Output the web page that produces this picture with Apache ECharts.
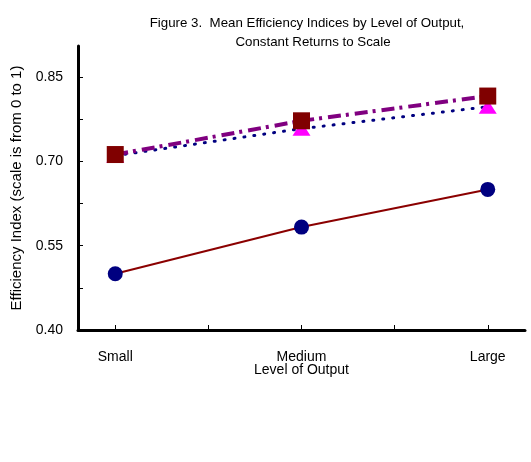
<!DOCTYPE html>
<html>
<head>
<meta charset="utf-8">
<script src="https://cdn.jsdelivr.net/npm/echarts@6/dist/echarts.min.js"></script>
<style>
  html, body { margin: 0; padding: 0; background: #fff; }
  #chart { width: 531px; height: 462px; }
</style>
</head>
<body>
<div id="chart"></div>
<script>
// Output size classes, placed at positions 0, 1, 2 on the horizontal axis
const categories = ['Small', 'Medium', 'Large'];

// Mean efficiency index by output level (constant returns to scale)
const seriesCircle = [0.50, 0.583, 0.65];
const seriesSquare = [0.712, 0.772, 0.816];
const seriesTriangle = [0.71, 0.758, 0.797];

// Axis ticks and labels
const yTickValues = [0.40, 0.475, 0.55, 0.625, 0.70, 0.775, 0.85];
const yLabelValues = [0.40, 0.55, 0.70, 0.85];
const xTickValues = [0, 0.5, 1, 1.5, 2];
const xLabelValues = [0, 1, 2];

const FONT = 'Liberation Sans';

function pairs(vals) {
  return vals.map((v, i) => [i, v]);
}

const chart = echarts.init(document.getElementById('chart'), null, { renderer: 'canvas' });

chart.setOption({
  backgroundColor: '#ffffff',
  animation: false,
  title: [
    {
      text: 'Figure 3.  Mean Efficiency Indices by Level of Output,',
      left: 302, top: 12, textAlign: 'center',
      textStyle: { fontFamily: FONT, fontSize: 13.3, fontWeight: 'normal', color: '#000' }
    },
    {
      text: 'Constant Returns to Scale',
      left: 308, top: 31, textAlign: 'center',
      textStyle: { fontFamily: FONT, fontSize: 13.3, fontWeight: 'normal', color: '#000' }
    }
  ],
  grid: { left: 78, right: 6, top: 46, bottom: 132, containLabel: false },
  xAxis: {
    type: 'value',
    min: -0.2,
    max: 2.2,
    name: 'Level of Output',
    nameLocation: 'middle',
    nameGap: 33,
    nameMoveOverlap: false,
    nameTextStyle: { fontFamily: FONT, fontSize: 14, color: '#000' },
    axisLine: { show: true, onZero: false, lineStyle: { color: '#000', width: 3 } },
    axisTick: { show: true, inside: true, length: 5, customValues: xTickValues, lineStyle: { color: '#000', width: 1 } },
    axisLabel: {
      customValues: xLabelValues,
      margin: 20,
      fontFamily: FONT, fontSize: 14, color: '#000',
      formatter: v => categories[Math.round(v)] || ''
    },
    splitLine: { show: false }
  },
  yAxis: {
    type: 'value',
    min: 0.40,
    max: 0.905,
    name: 'Efficiency Index (scale is from 0 to 1)',
    nameLocation: 'middle',
    nameGap: 54,
    nameRotate: 90,
    nameTextStyle: { fontFamily: FONT, fontSize: 15, color: '#000' },
    axisLine: { show: true, onZero: false, lineStyle: { color: '#000', width: 3 } },
    axisTick: { show: true, inside: true, length: 5, customValues: yTickValues, lineStyle: { color: '#000', width: 1 } },
    axisLabel: {
      customValues: yLabelValues,
      margin: 15,
      fontFamily: FONT, fontSize: 14, color: '#000',
      formatter: v => v.toFixed(2)
    },
    splitLine: { show: false }
  },
  series: [
    {
      type: 'line',
      data: pairs(seriesCircle),
      symbol: 'circle',
      symbolSize: 15,
      itemStyle: { color: '#000080' },
      lineStyle: { color: '#8B0000', width: 2 },
      z: 2
    },
    {
      type: 'line',
      data: pairs(seriesTriangle),
      symbol: 'triangle',
      symbolSize: [18, 14],
      itemStyle: { color: '#FF00FF' },
      lineStyle: { color: '#000080', width: 3, type: [1, 9], cap: 'round' },
      z: 3
    },
    {
      type: 'line',
      data: pairs(seriesSquare),
      symbol: 'rect',
      symbolSize: 17,
      itemStyle: { color: '#800000' },
      lineStyle: { color: '#800080', width: 4, type: [13, 5, 3, 6] },
      z: 4
    }
  ]
});
</script>
</body>
</html>
